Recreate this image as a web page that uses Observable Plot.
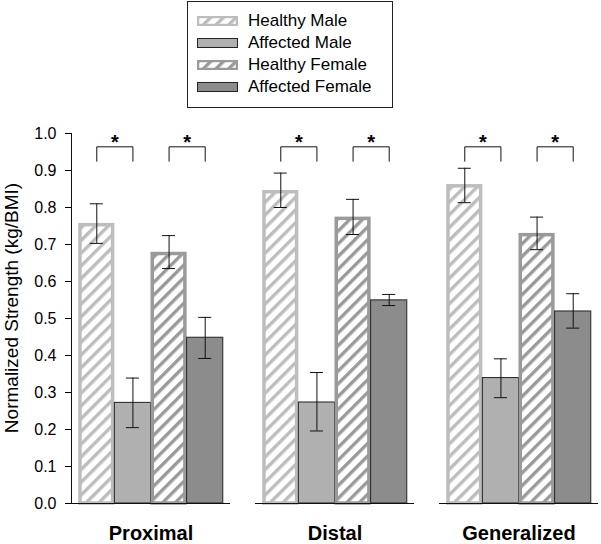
<!DOCTYPE html>
<html><head><meta charset="utf-8">
<script src="https://cdn.jsdelivr.net/npm/d3@7"></script>
<script src="https://cdn.jsdelivr.net/npm/@observablehq/plot@0.6"></script>
<style>
body{margin:0;background:#fff;font-family:"Liberation Sans",Arial,sans-serif;}
#wrap{position:relative;width:601px;height:544px;}
#legend{position:absolute;left:187px;top:1px;width:206px;height:107px;border:1px solid #222;box-sizing:border-box;background:#fff;}
.row{position:absolute;left:9px;height:22px;display:flex;align-items:center;font-size:17px;color:#000;white-space:nowrap;}
.row svg{margin-right:10px;display:block;}
</style></head>
<body>
<svg width="0" height="0" style="position:absolute">
<defs>
<pattern id="hatchM" patternUnits="userSpaceOnUse" width="9" height="9" patternTransform="rotate(45)">
<rect width="9" height="9" fill="#fff"/><rect width="3.4" height="9" fill="#bdbdbd"/>
</pattern>
<pattern id="hatchF" patternUnits="userSpaceOnUse" width="9" height="9" patternTransform="rotate(45)">
<rect width="9" height="9" fill="#fff"/><rect width="3.4" height="9" fill="#9a9a9a"/>
</pattern>
</defs></svg>
<div id="wrap"><div id="legend"></div></div>
<script>
// ---- data ----
const groups = ["Proximal", "Distal", "Generalized"];
const series = ["Healthy Male", "Affected Male", "Healthy Female", "Affected Female"];
const healthyMale     = [0.757, 0.846, 0.862];
const healthyMaleLo   = [0.703, 0.800, 0.813];
const healthyMaleHi   = [0.810, 0.893, 0.906];
const affectedMale    = [0.272, 0.273, 0.339];
const affectedMaleLo  = [0.205, 0.196, 0.286];
const affectedMaleHi  = [0.339, 0.354, 0.391];
const healthyFemale   = [0.679, 0.774, 0.730];
const healthyFemaleLo = [0.635, 0.727, 0.686];
const healthyFemaleHi = [0.724, 0.822, 0.774];
const affectedFemale  = [0.448, 0.549, 0.519];
const affectedFemaleLo= [0.392, 0.535, 0.474];
const affectedFemaleHi= [0.503, 0.565, 0.567];
const yTicks = [0, 0.1, 0.2, 0.3, 0.4, 0.5, 0.6, 0.7, 0.8, 0.9, 1.0];
const yLabel = "Normalized Strength (kg/BMI)";
// significance brackets (pairs of series indices within each group)
const sigPairs = [[0, 1], [2, 3]];
const bracketTop = 0.964, bracketBottom = 0.925, starY = 0.975;

// ---- styles ----
const styles = {
  "Healthy Male":    {fill: "url(#hatchM)", stroke: "#bdbdbd", strokeWidth: 3.5, inset: 1.75},
  "Affected Male":   {fill: "#b0b0b0", stroke: "#222", strokeWidth: 1, inset: 0},
  "Healthy Female":  {fill: "url(#hatchF)", stroke: "#9a9a9a", strokeWidth: 3.5, inset: 1.75},
  "Affected Female": {fill: "#8c8c8c", stroke: "#222", strokeWidth: 1, inset: 0}
};

const vals = [healthyMale, affectedMale, healthyFemale, affectedFemale];
const los = [healthyMaleLo, affectedMaleLo, healthyFemaleLo, affectedFemaleLo];
const his = [healthyMaleHi, affectedMaleHi, healthyFemaleHi, affectedFemaleHi];
const rows = [];
groups.forEach((g, gi) => series.forEach((s, si) => rows.push({group: g, series: s, i: si, value: vals[si][gi], lo: los[si][gi], hi: his[si][gi]})));

const bracketPts = [];
const stars = [];
groups.forEach(g => sigPairs.forEach(([a, b], k) => {
  const id = g + k;
  bracketPts.push({id, group: g, x: a, y: bracketBottom}, {id, group: g, x: a, y: bracketTop}, {id, group: g, x: b, y: bracketTop}, {id, group: g, x: b, y: bracketBottom});
  stars.push({group: g, x: (a + b) / 2});
}));

const xDomain = [-0.7, 3.7];
const capHalf = 0.18;

const barMarks = series.map(s => {
  const st = styles[s];
  return Plot.rectY(rows.filter(d => d.series === s), {
    fx: "group", x1: d => d.i - 0.5, x2: d => d.i + 0.5, y1: () => 0, y2: "value",
    fill: st.fill, stroke: st.stroke, strokeWidth: st.strokeWidth,
    insetLeft: st.inset, insetRight: st.inset, insetTop: st.inset, insetBottom: 0
  });
});

const chart = Plot.plot({
  width: 601, height: 544,
  marginTop: 133, marginBottom: 41, marginLeft: 70, marginRight: 1,
  style: {fontFamily: "Liberation Sans, Arial, sans-serif", fontSize: "16px", color: "#000", background: "transparent", overflow: "visible"},
  fx: {domain: groups, paddingInner: 0.135, paddingOuter: 0, label: null},
  x: {domain: xDomain, axis: null},
  y: {domain: [0, 1]},
  marks: [
    ...barMarks,
    Plot.ruleY([0], {stroke: "#111", strokeWidth: 1}),
    Plot.ruleX([{group: groups[0], x: xDomain[0]}], {fx: "group", x: "x", stroke: "#111"}),
    Plot.ruleX(rows, {fx: "group", x: "i", y1: "lo", y2: "hi", stroke: "#111", strokeWidth: 1}),
    Plot.ruleY(rows, {fx: "group", y: "lo", x1: d => d.i - capHalf, x2: d => d.i + capHalf, stroke: "#111"}),
    Plot.ruleY(rows, {fx: "group", y: "hi", x1: d => d.i - capHalf, x2: d => d.i + capHalf, stroke: "#111"}),
    Plot.line(bracketPts, {fx: "group", x: "x", y: "y", z: "id", stroke: "#111", strokeWidth: 1}),
    Plot.text(stars, {fx: "group", x: "x", y: () => starY, text: () => "*", fontSize: 20, fontWeight: "bold", fill: "#000"}),
    Plot.axisY({ticks: yTicks, tickFormat: d3.format(".1f"), tickSize: 6, tickPadding: 9, fontSize: 16, label: null}),
    Plot.text([yLabel], {fx: () => groups[0], text: d => d, frameAnchor: "left", textAnchor: "middle", rotate: -90, dx: -59.4, dy: -10.5, fontSize: 19, fill: "#000"}),
    Plot.axisFx({anchor: "bottom", tickSize: 0, tickPadding: 22, fontSize: 20, fontWeight: "bold", label: null})
  ]
});
document.getElementById("wrap").prepend(chart);

// legend
const legend = document.getElementById("legend");
series.forEach((s, k) => {
  const st = styles[s];
  const row = document.createElement("div");
  row.className = "row";
  row.style.top = (8 + 22 * k) + "px";
  const sw = st.strokeWidth > 1 ? 2.2 : 1;
  row.innerHTML = `<svg width="41" height="10"><rect x="${sw/2}" y="${sw/2}" width="${41 - sw}" height="${10 - sw}" fill="${st.fill}" stroke="${st.stroke}" stroke-width="${sw}"/></svg><span>${s}</span>`;
  legend.appendChild(row);
});
</script>
</body></html>
